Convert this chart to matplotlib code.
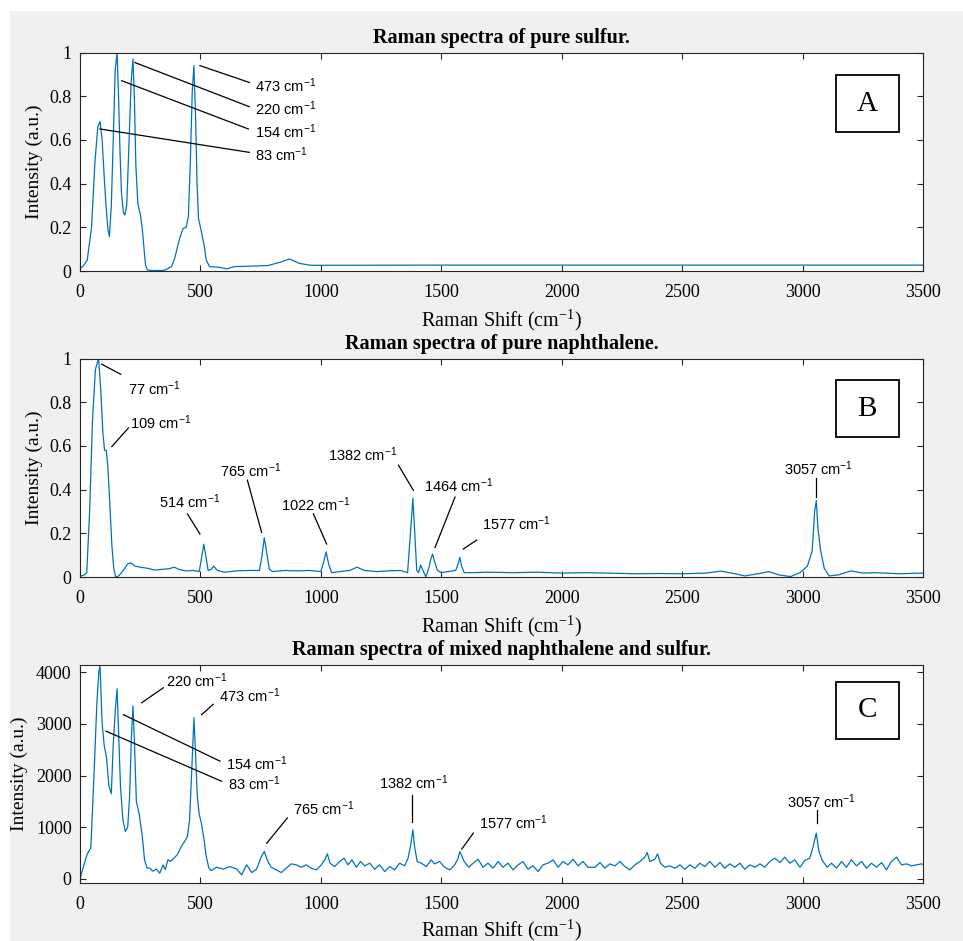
import numpy as np
import matplotlib.pyplot as plt
from matplotlib.patches import Rectangle
from matplotlib.ticker import MultipleLocator, FormatStrFormatter

plt.rcParams['font.family'] = 'Liberation Serif'
plt.rcParams['mathtext.fontset'] = 'custom'
plt.rcParams['mathtext.rm'] = 'Liberation Serif'
plt.rcParams['mathtext.default'] = 'regular'

# ---- spectra ----
sulfur_shift = [0, 15, 30, 48, 62, 74, 83, 92, 100, 108,
                116, 122, 130, 138, 146, 154, 160, 166, 172, 180,
                186, 194, 204, 212, 220, 226, 232, 240, 250, 258,
                266, 272, 280, 300, 350, 380, 393, 414, 428, 441,
                450, 458, 466, 473, 480, 486, 492, 504, 515, 524,
                538, 570, 610, 640, 700, 780, 830, 870, 910, 960,
                1500, 2500, 3500]
sulfur_int = [0.01, 0.025, 0.05, 0.2, 0.5, 0.66, 0.685, 0.6, 0.44, 0.3,
              0.19, 0.157, 0.3, 0.6, 0.92, 1.0, 0.8, 0.55, 0.36, 0.27,
              0.256, 0.3, 0.6, 0.86, 0.97, 0.78, 0.48, 0.31, 0.26, 0.2,
              0.1, 0.027, 0.005, 0.002, 0.003, 0.02, 0.058, 0.15, 0.195, 0.2,
              0.25, 0.5, 0.82, 0.94, 0.7, 0.4, 0.24, 0.18, 0.12, 0.05,
              0.02, 0.018, 0.01, 0.02, 0.022, 0.025, 0.04, 0.055, 0.035, 0.026,
              0.027, 0.027, 0.027]

naph_shift = [0, 15, 28, 40, 52, 64, 77, 86, 95, 102,
              109, 116, 124, 132, 140, 148, 160, 180, 198, 212,
              228, 250, 280, 310, 340, 370, 392, 410, 440, 470,
              495, 505, 514, 522, 532, 545, 555, 570, 600, 650,
              700, 745, 756, 765, 774, 786, 800, 850, 900, 950,
              1000, 1012, 1022, 1032, 1045, 1080, 1120, 1150, 1180, 1230,
              1280, 1330, 1360, 1372, 1382, 1390, 1398, 1406, 1414, 1424,
              1436, 1448, 1456, 1464, 1472, 1484, 1500, 1530, 1560, 1570,
              1577, 1584, 1595, 1620, 1700, 1800, 1900, 2000, 2100, 2200,
              2300, 2400, 2500, 2600, 2660, 2720, 2760, 2820, 2860, 2900,
              2950, 2990, 3020, 3040, 3050, 3057, 3064, 3075, 3090, 3110,
              3150, 3200, 3250, 3300, 3400, 3500]
naph_int = [0.004, 0.008, 0.02, 0.3, 0.72, 0.95, 1.0, 0.86, 0.66, 0.58,
            0.58, 0.5, 0.33, 0.15, 0.04, 0.0, 0.005, 0.03, 0.06, 0.065,
            0.05, 0.045, 0.04, 0.032, 0.035, 0.038, 0.045, 0.035, 0.028, 0.03,
            0.025, 0.09, 0.15, 0.1, 0.03, 0.035, 0.05, 0.03, 0.022, 0.028,
            0.03, 0.03, 0.1, 0.18, 0.12, 0.035, 0.025, 0.03, 0.028, 0.03,
            0.025, 0.07, 0.115, 0.06, 0.02, 0.025, 0.03, 0.045, 0.03, 0.025,
            0.028, 0.03, 0.02, 0.2, 0.36, 0.2, 0.03, 0.02, 0.055, 0.03,
            0.0, 0.04, 0.08, 0.105, 0.07, 0.03, 0.02, 0.025, 0.03, 0.06,
            0.09, 0.05, 0.02, 0.02, 0.022, 0.02, 0.022, 0.018, 0.02, 0.018,
            0.015, 0.016, 0.015, 0.018, 0.027, 0.015, 0.005, 0.016, 0.025, 0.01,
            0.002, 0.02, 0.05, 0.12, 0.3, 0.35, 0.22, 0.12, 0.04, 0.005,
            0.01, 0.028, 0.018, 0.02, 0.015, 0.018]

mix_shift = [0, 15, 30, 45, 58, 70, 78, 83, 92, 100,
             110, 120, 130, 138, 147, 154, 160, 168, 178, 188,
             198, 206, 213, 220, 226, 234, 246, 258, 268, 278,
             289, 302, 317, 331, 345, 354, 365, 376, 390, 404,
             421, 435, 446, 455, 463, 473, 480, 487, 495, 504,
             515, 524, 535, 545, 567, 595, 623, 651, 671, 692,
             713, 733, 753, 765, 780, 794, 815, 836, 856, 877,
             898, 919, 939, 960, 981, 1002, 1016, 1027, 1038, 1057,
             1078, 1096, 1113, 1129, 1147, 1165, 1182, 1203, 1223, 1244,
             1265, 1286, 1306, 1327, 1348, 1362, 1373, 1382, 1389, 1400,
             1417, 1438, 1458, 1472, 1493, 1514, 1535, 1556, 1570, 1577,
             1595, 1614, 1632, 1653, 1673, 1694, 1715, 1736, 1756, 1777,
             1798, 1819, 1839, 1860, 1881, 1902, 1922, 1943, 1964, 1985,
             2005, 2026, 2047, 2068, 2088, 2109, 2138, 2159, 2179, 2200,
             2221, 2242, 2262, 2283, 2304, 2325, 2345, 2355, 2366, 2387,
             2398, 2410, 2428, 2449, 2470, 2491, 2511, 2532, 2553, 2574,
             2594, 2615, 2636, 2657, 2677, 2698, 2719, 2740, 2760, 2781,
             2802, 2823, 2843, 2864, 2885, 2906, 2926, 2947, 2968, 2989,
             3009, 3030, 3044, 3057, 3068, 3082, 3102, 3120, 3141, 3162,
             3182, 3203, 3224, 3245, 3265, 3286, 3307, 3328, 3348, 3369,
             3390, 3411, 3432, 3452, 3473, 3494, 3500]
mix_int = [0, 250, 480, 600, 2000, 3400, 4000, 4140, 3000, 2600,
           2350, 1800, 1650, 2600, 3300, 3680, 2900, 1800, 1150, 920,
           1000, 1600, 2700, 3350, 2640, 1500, 1250, 850, 370, 210,
           210, 150, 190, 110, 270, 180, 370, 340, 400, 470,
           630, 730, 820, 1150, 1990, 3120, 2400, 1600, 1250, 1080,
           760, 440, 210, 160, 227, 188, 240, 188, 78, 272,
           124, 188, 433, 531, 337, 226, 175, 123, 207, 291,
           272, 226, 272, 207, 175, 272, 369, 485, 304, 239,
           337, 401, 272, 369, 226, 337, 252, 304, 187, 272,
           142, 239, 175, 304, 252, 401, 660, 950, 628, 337,
           304, 239, 369, 291, 337, 226, 175, 272, 401, 531,
           337, 226, 304, 381, 226, 304, 207, 337, 226, 304,
           175, 272, 337, 187, 252, 142, 272, 304, 369, 226,
           337, 272, 381, 252, 337, 226, 226, 317, 207, 291,
           252, 337, 239, 175, 272, 337, 420, 511, 337, 381,
           485, 304, 226, 252, 207, 272, 187, 272, 207, 304,
           239, 337, 226, 317, 207, 291, 226, 304, 187, 272,
           226, 291, 226, 337, 401, 317, 420, 304, 369, 226,
           356, 401, 628, 887, 531, 356, 226, 304, 207, 337,
           226, 369, 252, 337, 207, 304, 226, 317, 175, 337,
           420, 272, 291, 252, 272, 291, 280]

titles = ["Raman spectra of pure sulfur.",
          "Raman spectra of pure naphthalene.",
          "Raman spectra of mixed naphthalene and sulfur."]
letters = ["A", "B", "C"]

# peak labels: wavenumber, leader line (x0, y0, x1, y1), text anchor, alignment
sulfur_notes = [(473, (498, 0.94, 703, 0.863), (727, 0.848), 'left'),
                (220, (228, 0.954, 703, 0.752), (727, 0.742), 'left'),
                (154, (173, 0.871, 699, 0.65), (727, 0.638), 'left'),
                (83, (83, 0.65, 703, 0.543), (727, 0.533), 'left')]
naph_notes = [(77, (90, 0.974, 169, 0.928), (201, 0.862), 'left'),
              (109, (132, 0.597, 201, 0.682), (208, 0.708), 'left'),
              (514, (446, 0.289, 498, 0.197), (457, 0.343), 'center'),
              (765, (695, 0.443, 754, 0.204), (710, 0.486), 'center'),
              (1022, (969, 0.289, 1024, 0.151), (980, 0.331), 'center'),
              (1382, (1322, 0.512, 1384, 0.397), (1173, 0.558), 'center'),
              (1464, (1557, 0.366, 1474, 0.135), (1572, 0.418), 'center'),
              (1577, (1647, 0.169, 1591, 0.128), (1813, 0.246), 'center'),
              (3057, (3056, 0.451, 3056, 0.366), (3068, 0.497), 'center')]
mix_notes = [(220, (256, 3410, 346, 3700), (484, 3830), 'center'),
             (473, (505, 3180, 553, 3380), (706, 3550), 'center'),
             (154, (180, 3180, 581, 2280), (606, 2230), 'left'),
             (83, (108, 2860, 588, 1890), (616, 1840), 'left'),
             (765, (861, 1180, 775, 690), (1013, 1350), 'center'),
             (1382, (1377, 1630, 1377, 1110), (1387, 1860), 'center'),
             (1577, (1633, 887, 1585, 577), (1802, 1090), 'center'),
             (3057, (3058, 1340, 3058, 1080), (3077, 1500), 'center')]

fig = plt.figure(figsize=(9.63, 9.41), dpi=100, facecolor='white')
fig.add_artist(Rectangle((10 / 963, 0), 1, 930 / 941, transform=fig.transFigure,
                         facecolor='#f0f0f0', edgecolor='none', zorder=-1))

panels = [
    (sulfur_shift, sulfur_int, sulfur_notes, (0, 1), 0.2, '%g', 0.712, 0.636, -0.17),
    (naph_shift, naph_int, naph_notes, (0, 1), 0.2, '%g', 0.3868, 0.641, -0.17),
    (mix_shift, mix_int, mix_notes, (-80, 4150), 1000, '%d', 0.0616, 0.66, -0.158),
]

for i, (x, y, notes, ylim, ystep, yfmt, bottom, box_y, xlab_y) in enumerate(panels):
    ax = fig.add_axes([80 / 963, bottom, 843 / 963, 0.2322])
    ax.plot(x, y, color='#0072BD', lw=0.9)
    ax.set_xlim(0, 3500)
    ax.set_ylim(*ylim)
    ax.xaxis.set_major_locator(MultipleLocator(500))
    ax.yaxis.set_major_locator(MultipleLocator(ystep))
    ax.yaxis.set_major_formatter(FormatStrFormatter(yfmt))
    ax.tick_params(direction='in', top=True, right=True, length=4,
                   width=0.8, labelsize=13, color='#262626')
    ax.tick_params(axis='x', pad=9)
    ax.tick_params(axis='y', pad=6)
    for s in ax.spines.values():
        s.set_color('#262626')
        s.set_linewidth(0.8)
    ax.set_title(titles[i], fontsize=14.5, fontweight='bold', pad=7)
    ax.set_xlabel('Raman Shift (cm$^{-1}$)', fontsize=14.5)
    ax.set_ylabel('Intensity (a.u.)', fontsize=14)
    ax.xaxis.set_label_coords(0.5, xlab_y)
    ax.yaxis.set_label_coords(-0.044 if i < 2 else -0.062, 0.5)

    for peak, (x0, y0, x1, y1), (tx, ty), ha in notes:
        ax.plot([x0, x1], [y0, y1], color='black', lw=0.9)
        ax.text(tx, ty, f'{peak} cm$^{{-1}}$', ha=ha, va='center',
                fontsize=10.5, family='Liberation Sans')

    ax.add_patch(Rectangle((0.897, box_y), 0.074, 0.26, transform=ax.transAxes,
                           facecolor='white', edgecolor='black', lw=1.3))
    ax.text(0.934, box_y + 0.13, letters[i], transform=ax.transAxes,
            ha='center', va='center', fontsize=21)

fig.savefig('out.png', dpi=100)
